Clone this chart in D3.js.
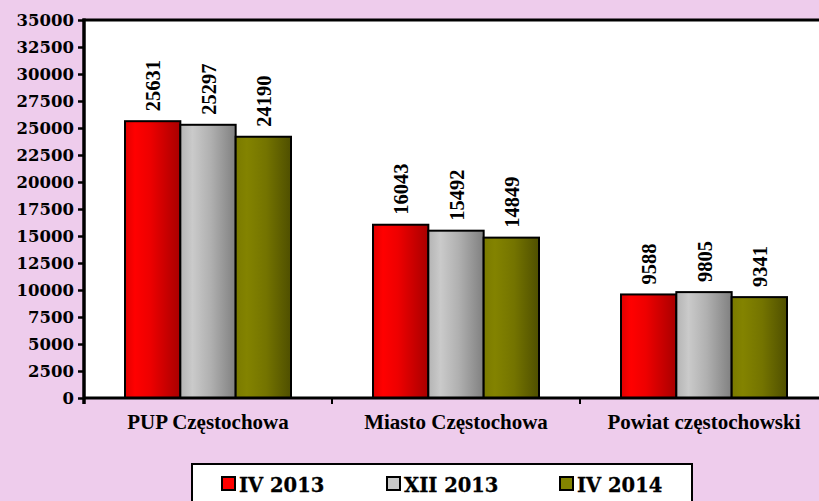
<!DOCTYPE html>
<html><head><meta charset="utf-8">
<script src="https://cdn.jsdelivr.net/npm/d3@7/dist/d3.min.js"></script>
<style>html,body{margin:0;padding:0;background:#EECCEC;}svg{display:block;}</style>
</head><body>
<script>
const categories = ["PUP Częstochowa", "Miasto Częstochowa", "Powiat częstochowski"];
const seriesNames = ["IV 2013", "XII 2013", "IV 2014"];
const valuesIV2013 = [25631, 16043, 9588];
const valuesXII2013 = [25297, 15492, 9805];
const valuesIV2014 = [24190, 14849, 9341];
const yTicks = [0,2500,5000,7500,10000,12500,15000,17500,20000,22500,25000,27500,30000,32500,35000];

(function(){
const seriesValues = [valuesIV2013, valuesXII2013, valuesIV2014];
const W = 819, H = 501;
const mLeft = 84, mTop = 20, mBottom = 398;
const svg = d3.select("body").append("svg").attr("width", W).attr("height", H);
svg.append("rect").attr("width", W).attr("height", H).attr("fill", "#EECCEC");

const defs = svg.append("defs");
const grads = [
  [["0%","#e00000"],["18%","#ff0000"],["45%","#ee0000"],["100%","#a80000"]],
  [["0%","#b4b4b4"],["22%","#cacaca"],["55%","#b0b0b0"],["100%","#808080"]],
  [["0%","#7a7a00"],["20%","#838300"],["55%","#747400"],["100%","#4f4f00"]]
];
grads.forEach((g,i)=>{
  const lg = defs.append("linearGradient").attr("id","g"+i).attr("x1","0").attr("x2","1").attr("y1","0").attr("y2","0");
  g.forEach(s=>lg.append("stop").attr("offset",s[0]).attr("stop-color",s[1]));
});

const x0 = d3.scaleBand().domain(categories).range([mLeft, mLeft + 3*248]).padding(0);
const groupW = 166;
const x1 = d3.scaleBand().domain(seriesNames).range([0, groupW]).padding(0);
const y = d3.scaleLinear().domain([0, 35000]).range([mBottom, mTop]);

// plot area
svg.append("rect").attr("x", mLeft).attr("y", mTop).attr("width", W - mLeft).attr("height", mBottom - mTop).attr("fill", "#fff");
svg.append("line").attr("x1", mLeft-1.5).attr("x2", W).attr("y1", mTop).attr("y2", mTop).attr("stroke","#000").attr("stroke-width",3);

// bars
const g = svg.append("g");
categories.forEach((c, ci) => {
  const gx = x0(c) + (x0.bandwidth() - groupW)/2;
  seriesNames.forEach((s, si) => {
    const v = seriesValues[si][ci];
    g.append("rect")
      .attr("x", gx + x1(s)).attr("y", y(v))
      .attr("width", x1.bandwidth()).attr("height", y(0) - y(v))
      .attr("fill", `url(#g${si})`).attr("stroke", "#000").attr("stroke-width", 2);
    const tx = gx + x1(s) + x1.bandwidth()/2;
    const ty = y(v) - 10;
    g.append("text").attr("transform", `translate(${tx + 7.5},${ty}) rotate(-90)`)
      .attr("font-family", "Liberation Serif, Times New Roman, serif").attr("font-weight", "bold")
      .attr("font-size", 20.5).attr("text-anchor", "start").text(v);
  });
});

// y axis
const yAxis = d3.axisLeft(y).tickValues(yTicks).tickSize(6).tickPadding(4).tickFormat(d3.format("d"));
const ya = svg.append("g").attr("transform", `translate(${mLeft},0)`).call(yAxis);
ya.select(".domain").remove();
ya.selectAll(".tick line").attr("stroke", "#000").attr("stroke-width", 2.5);
ya.selectAll(".tick text").attr("font-family", "DejaVu Serif, serif").attr("font-weight","bold")
  .attr("font-size", 16.5).attr("fill","#000").attr("dy","0.35em");
svg.append("line").attr("x1", mLeft).attr("x2", mLeft).attr("y1", mTop-1.5).attr("y2", mBottom+6).attr("stroke","#000").attr("stroke-width",3.5);

// x axis
const xAxis = d3.axisBottom(x0).tickSize(0).tickPadding(16);
const xa = svg.append("g").attr("transform", `translate(0,${mBottom})`).call(xAxis);
xa.select(".domain").remove();
xa.selectAll(".tick text").attr("font-family", "Liberation Serif, Times New Roman, serif").attr("font-weight","bold")
  .attr("font-size", 21).attr("fill","#000");
svg.append("line").attr("x1", mLeft).attr("x2", W).attr("y1", mBottom).attr("y2", mBottom).attr("stroke","#000").attr("stroke-width",3);
categories.slice(1).forEach(c => {
  svg.append("line").attr("x1", x0(c)).attr("x2", x0(c)).attr("y1", mBottom).attr("y2", mBottom+6).attr("stroke","#000").attr("stroke-width",2);
});

// legend
svg.append("rect").attr("x", 192).attr("y", 464).attr("width", 500).attr("height", 50)
  .attr("fill", "#fff").attr("stroke", "#000").attr("stroke-width", 2);
const legX = [222, 387, 560];
seriesNames.forEach((s, i) => {
  svg.append("rect").attr("x", legX[i]).attr("y", 477).attr("width", 13).attr("height", 13)
    .attr("fill", grads[i][1][1]).attr("stroke","#000").attr("stroke-width",2);
  svg.append("text").attr("x", legX[i] + 17).attr("y", 492)
    .attr("font-family", "DejaVu Serif, serif").attr("font-weight","bold").attr("font-size", 19.5)
    .attr("stroke", "#000").attr("stroke-width", 0.3)
    .text(s);
});
})();
</script>
</body></html>
